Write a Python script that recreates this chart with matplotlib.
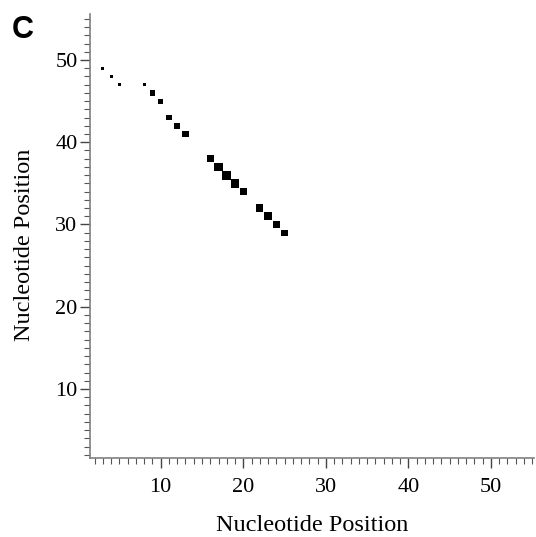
import matplotlib
matplotlib.use("Agg")
import matplotlib.pyplot as plt
from matplotlib.ticker import MultipleLocator

# base-pair dot plot: (i, j) positions and dot size (px side)
pos_i = [3, 4, 5, 8, 9, 10, 11, 12, 13, 16, 17, 18, 19, 20, 22, 23, 24, 25]
pos_j = [49, 48, 47, 47, 46, 45, 43, 42, 41, 38, 37, 36, 35, 34, 32, 31, 30, 29]
dot_px = [3, 3, 3, 3, 5, 5, 5.5, 5.5, 6, 7, 8.5, 8.5, 8, 6.5, 7, 8, 7, 6]

serif = "Liberation Serif"

fig = plt.figure(figsize=(5.36, 5.37), dpi=100)
ax = fig.add_axes([0.168, 0.147, 0.828, 0.827])

sizes = [(p * 0.75) ** 2 for p in dot_px]
ax.scatter(pos_i, pos_j, s=sizes, marker="s", color="black", linewidths=0)

ax.set_xlim(1.44, 55.2)
ax.set_ylim(1.6, 55.6)

for side in ["top", "right"]:
    ax.spines[side].set_visible(False)
for side in ["left", "bottom"]:
    ax.spines[side].set_color("#808080")
    ax.spines[side].set_linewidth(1.2)

ax.xaxis.set_major_locator(MultipleLocator(10))
ax.xaxis.set_minor_locator(MultipleLocator(1))
ax.yaxis.set_major_locator(MultipleLocator(10))
ax.yaxis.set_minor_locator(MultipleLocator(1))
ax.tick_params(which="major", length=7, width=1, color="#444444", pad=2)
ax.tick_params(which="minor", length=4, width=0.8, color="#555555")
ax.tick_params(axis="x", which="major", pad=7)

for lab in ax.get_xticklabels() + ax.get_yticklabels():
    lab.set_fontfamily(serif)
    lab.set_fontsize(16)

ax.set_xlabel("Nucleotide Position", fontfamily=serif, fontsize=17.5, labelpad=13)
ax.set_ylabel("Nucleotide Position", fontfamily=serif, fontsize=17.5)
ax.yaxis.set_label_coords(-0.125, 0.48)

fig.text(0.022, 0.93, "C", fontfamily="Liberation Sans", fontweight="bold", fontsize=22)

fig.savefig("out.png", dpi=100)
